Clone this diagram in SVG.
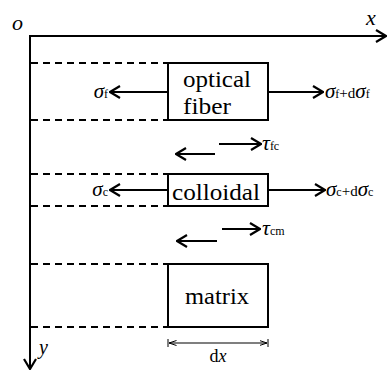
<svg xmlns="http://www.w3.org/2000/svg" width="388" height="371" viewBox="0 0 388 371">
<defs>
<marker id="arr" viewBox="0 0 12 14" refX="11" refY="7" markerWidth="12" markerHeight="14" markerUnits="userSpaceOnUse" orient="auto">
<path d="M1,1 L11,7 L1,13" fill="none" stroke="#000" stroke-width="2.2"/>
</marker>
<marker id="sm" viewBox="0 0 8 6" refX="7.5" refY="3" markerWidth="8" markerHeight="6" markerUnits="userSpaceOnUse" orient="auto-start-reverse">
<path d="M0,0.5 L7.5,3 L0,5.5" fill="none" stroke="#000" stroke-width="1"/>
</marker>
</defs>
<style>
.ln{stroke:#000;stroke-width:2;fill:none}
.dash{stroke:#000;stroke-width:2;stroke-dasharray:7,5;fill:none}
.box{stroke:#000;stroke-width:2;fill:#fff}
text{fill:#000;font-family:Liberation Serif, Times New Roman, Tinos, Nimbus Roman, Nimbus Roman No9 L, FreeSerif, Noto Serif, DejaVu Serif, serif}
.bt{font-size:24px}
.it{font-style:italic}
.sub{font-size:12px;font-style:normal}
</style>
<rect width="388" height="371" fill="#fff"/>
<g id="axes">
<line class="ln" x1="30" y1="36" x2="386" y2="36" marker-end="url(#arr)"/>
<line class="ln" x1="30" y1="35" x2="30" y2="369" marker-end="url(#arr)"/>
<text class="it" x="12" y="30" font-size="22">o</text>
<text class="it" x="366" y="25" font-size="22">x</text>
<text class="it" x="39" y="354" font-size="20">y</text>
</g>
<g id="dashed">
<line class="dash" x1="31" y1="63" x2="168" y2="63"/>
<line class="dash" x1="31" y1="120" x2="168" y2="120"/>
<line class="dash" x1="31" y1="174" x2="168" y2="174"/>
<line class="dash" x1="31" y1="206" x2="168" y2="206"/>
<line class="dash" x1="31" y1="264" x2="168" y2="264"/>
<line class="dash" x1="31" y1="327" x2="168" y2="327"/>
</g>
<g id="connectors">
<line class="ln" x1="168" y1="92" x2="110" y2="92" marker-end="url(#arr)"/>
<line class="ln" x1="268" y1="92" x2="323" y2="92" marker-end="url(#arr)"/>
<line class="ln" x1="219" y1="144" x2="261" y2="144" marker-end="url(#arr)"/>
<line class="ln" x1="215" y1="154" x2="176" y2="154" marker-end="url(#arr)"/>
<line class="ln" x1="168" y1="190" x2="110" y2="190" marker-end="url(#arr)"/>
<line class="ln" x1="268" y1="190" x2="325" y2="190" marker-end="url(#arr)"/>
<line class="ln" x1="222" y1="229" x2="260" y2="229" marker-end="url(#arr)"/>
<line class="ln" x1="217" y1="241" x2="177" y2="241" marker-end="url(#arr)"/>
</g>
<g id="labels">
<text x="108" y="98" text-anchor="end"><tspan class="it" font-size="21">σ</tspan><tspan class="sub">f</tspan></text>
<text x="325" y="98"><tspan class="it" font-size="21">σ</tspan><tspan class="sub">f</tspan><tspan font-size="15">+d</tspan><tspan class="it" font-size="21">σ</tspan><tspan class="sub">f</tspan></text>
<text x="262" y="150"><tspan class="it" font-size="22">τ</tspan><tspan class="sub">fc</tspan></text>
<text x="108" y="196" text-anchor="end"><tspan class="it" font-size="21">σ</tspan><tspan class="sub">c</tspan></text>
<text x="326" y="196"><tspan class="it" font-size="21">σ</tspan><tspan class="sub">c</tspan><tspan font-size="15">+d</tspan><tspan class="it" font-size="21">σ</tspan><tspan class="sub">c</tspan></text>
<text x="262" y="235"><tspan class="it" font-size="22">τ</tspan><tspan class="sub">cm</tspan></text>
</g>
<g id="optical-fiber">
<rect class="box" x="168" y="63" width="100" height="57"/>
<text class="bt" x="183" y="87" textLength="68" lengthAdjust="spacingAndGlyphs">optical</text>
<text class="bt" x="183" y="114" textLength="48" lengthAdjust="spacingAndGlyphs">fiber</text>
</g>
<g id="colloidal">
<rect class="box" x="168" y="174" width="100" height="32"/>
<text class="bt" x="172" y="200" textLength="88" lengthAdjust="spacingAndGlyphs">colloidal</text>
</g>
<g id="matrix">
<rect class="box" x="168" y="264" width="100" height="63"/>
<text class="bt" x="185" y="304" textLength="64" lengthAdjust="spacingAndGlyphs">matrix</text>
</g>
<g id="dimension">
<line x1="168" y1="339" x2="168" y2="347" stroke="#000" stroke-width="1"/>
<line x1="268" y1="339" x2="268" y2="347" stroke="#000" stroke-width="1"/>
<line x1="169" y1="343" x2="267" y2="343" stroke="#000" stroke-width="1.2" marker-start="url(#sm)" marker-end="url(#sm)"/>
<text x="218" y="362" text-anchor="middle" font-size="18">d<tspan class="it">x</tspan></text>
</g>
</svg>
